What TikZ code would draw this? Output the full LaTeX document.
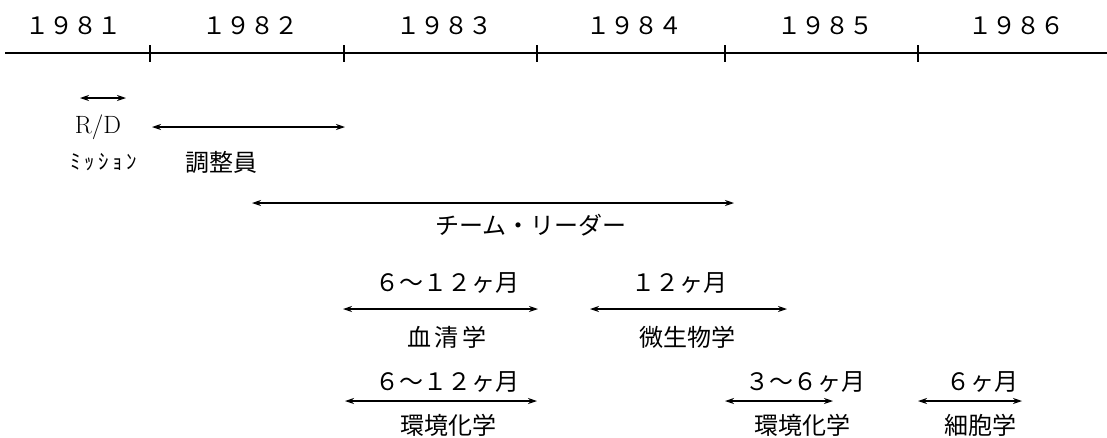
\documentclass[tikz,border=0pt]{standalone}
\usepackage{fontspec}
\newfontfamily\jp{Noto Sans CJK JP}
\usetikzlibrary{arrows.meta}
\tikzset{
  lbl/.style={inner sep=0pt, font=\jp\fontsize{24}{26}\selectfont},
  small/.style={inner sep=0pt, font=\jp\fontsize{21}{22}\selectfont},
  span/.style={{Stealth[length=9pt,width=6pt]}-{Stealth[length=9pt,width=6pt]}, line width=1.1pt},
  axis/.style={line width=1.1pt},
  tick/.style={line width=1.6pt}
}
\begin{document}
\begin{tikzpicture}[x=1pt,y=-1pt]
\useasboundingbox (0,0) rectangle (1107,437);
% axis
\coordinate (a0) at (5,53);
\coordinate (a1) at (1107,53);
\draw[axis] (a0) -- (a1);
\foreach \x [count=\i] in {150,344,537,725,918}{
  \coordinate (t\i a) at (\x,45);
  \coordinate (t\i b) at (\x,62);
  \draw[tick] (t\i a) -- (t\i b);
}
\node[lbl] (y1) at (73,26) {１９８１};
\node[lbl] (y2) at (250,26) {１９８２};
\node[lbl] (y3) at (444,26) {１９８３};
\node[lbl] (y4) at (634,26) {１９８４};
\node[lbl] (y5) at (825,26) {１９８５};
\node[lbl] (y6) at (1016,26) {１９８６};
% mission
\coordinate (m0) at (80,98);
\coordinate (m1) at (126,98);
\draw[span] (m0) -- (m1);
\node[inner sep=0pt, font=\fontsize{25}{27}\selectfont] (rd) at (98,127) {R/D};
\node[small] (mis) at (104,162) {ﾐ\,ｯ\,ｼ\,ｮ\,ﾝ};
% coordinator
\coordinate (c0) at (152,127);
\coordinate (c1) at (345,127);
\draw[span] (c0) -- (c1);
\node[lbl] (coord) at (221,162) {調整員};
% team leader
\coordinate (l0) at (252,203);
\coordinate (l1) at (734,203);
\draw[span] (l0) -- (l1);
\node[lbl] (tl) at (531,225) {チーム・リーダー};
% serology
\node[lbl] (d1) at (447,283) {６～１２ヶ月};
\coordinate (s0) at (343,309);
\coordinate (s1) at (538,309);
\draw[span] (s0) -- (s1);
\node[lbl] (sero) at (447,337) {血\,清\,学};
% microbiology
\node[lbl] (d2) at (679,283) {１２ヶ月};
\coordinate (b0) at (590,309);
\coordinate (b1) at (787,309);
\draw[span] (b0) -- (b1);
\node[lbl] (micro) at (687,337) {微生物学};
% env chem 1
\node[lbl] (d3) at (447,382) {６～１２ヶ月};
\coordinate (e0) at (345,401);
\coordinate (e1) at (537,401);
\draw[span] (e0) -- (e1);
\node[lbl] (env1) at (448,425) {環境化学};
% env chem 2
\node[lbl] (d4) at (805,382) {３～６ヶ月};
\coordinate (f0) at (725,401);
\coordinate (f1) at (833,401);
\draw[span] (f0) -- (f1);
\node[lbl] (env2) at (802,425) {環境化学};
% cell biology
\node[lbl] (d5) at (982,382) {６ヶ月};
\coordinate (g0) at (918,401);
\coordinate (g1) at (1022,401);
\draw[span] (g0) -- (g1);
\node[lbl] (cell) at (980,425) {細胞学};
\end{tikzpicture}
\end{document}
